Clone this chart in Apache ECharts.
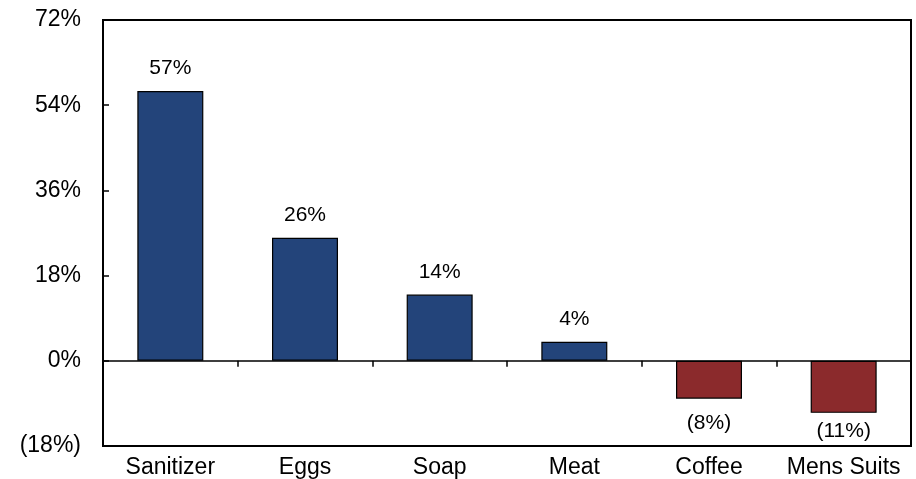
<!DOCTYPE html>
<html>
<head>
<meta charset="utf-8">
<script src="https://cdn.jsdelivr.net/npm/echarts@6/dist/echarts.min.js"></script>
<style>
  html, body { margin: 0; padding: 0; background: #fff; }
  #chart { width: 916px; height: 479px; }
</style>
</head>
<body>
<div id="chart"></div>
<script>
// Year-over-year price change by product
const categories = ['Sanitizer', 'Eggs', 'Soap', 'Meat', 'Coffee', 'Mens Suits'];
const changes = [57, 26, 14, 4, -8, -11];
const yTicks = { min: -18, max: 72, step: 18 };

const POS_COLOR = '#23447a';
const NEG_COLOR = '#8b2a2c';
const FONT = 'Liberation Sans, Arial, sans-serif';
// gap between each bar end and its value label, in px
const LABEL_GAP = [12, 12, 12, 12, 14, 8];

function pct(v) {
  return v < 0 ? '(' + Math.abs(v) + '%)' : v + '%';
}

const barData = changes.map(function (v, i) {
  return {
    value: v,
    itemStyle: { color: v < 0 ? NEG_COLOR : POS_COLOR },
    label: { position: v < 0 ? 'bottom' : 'top', distance: LABEL_GAP[i] }
  };
});

const chart = echarts.init(document.getElementById('chart'), null, { renderer: 'canvas' });
chart.setOption({
  animation: false,
  textStyle: { fontFamily: FONT },
  grid: {
    left: 103, right: 5, top: 20, bottom: 32,
    show: true, borderColor: '#000', borderWidth: 2, backgroundColor: 'transparent'
  },
  xAxis: [
    {
      type: 'category',
      data: categories,
      axisLine: { onZero: true, lineStyle: { color: '#000', width: 1.5 } },
      axisTick: { show: true, length: 6, lineStyle: { color: '#000', width: 1.5 } },
      axisLabel: { show: false },
      splitLine: { show: false }
    },
    {
      type: 'category',
      data: categories,
      position: 'bottom',
      axisLine: { show: false, onZero: false },
      axisTick: { show: false },
      axisLabel: { color: '#000', fontSize: 23, fontFamily: FONT, margin: 10, interval: 0, hideOverlap: false },
      splitLine: { show: false }
    }
  ],
  yAxis: {
    type: 'value',
    min: yTicks.min,
    max: yTicks.max,
    interval: yTicks.step,
    axisLine: { show: true, lineStyle: { color: '#000', width: 2 } },
    axisTick: { show: true, inside: true, length: 6, lineStyle: { color: '#000', width: 1.5 } },
    axisLabel: { color: '#000', fontSize: 23, fontFamily: FONT, margin: 22, formatter: pct },
    splitLine: { show: false }
  },
  series: [{
    type: 'bar',
    xAxisIndex: 0,
    data: barData,
    barWidth: '49%',
    itemStyle: { borderColor: '#000', borderWidth: 1.2 },
    label: {
      show: true,
      color: '#000',
      fontSize: 21,
      fontFamily: FONT,
      formatter: function (p) { return pct(p.value); }
    }
  }]
});
</script>
</body>
</html>
